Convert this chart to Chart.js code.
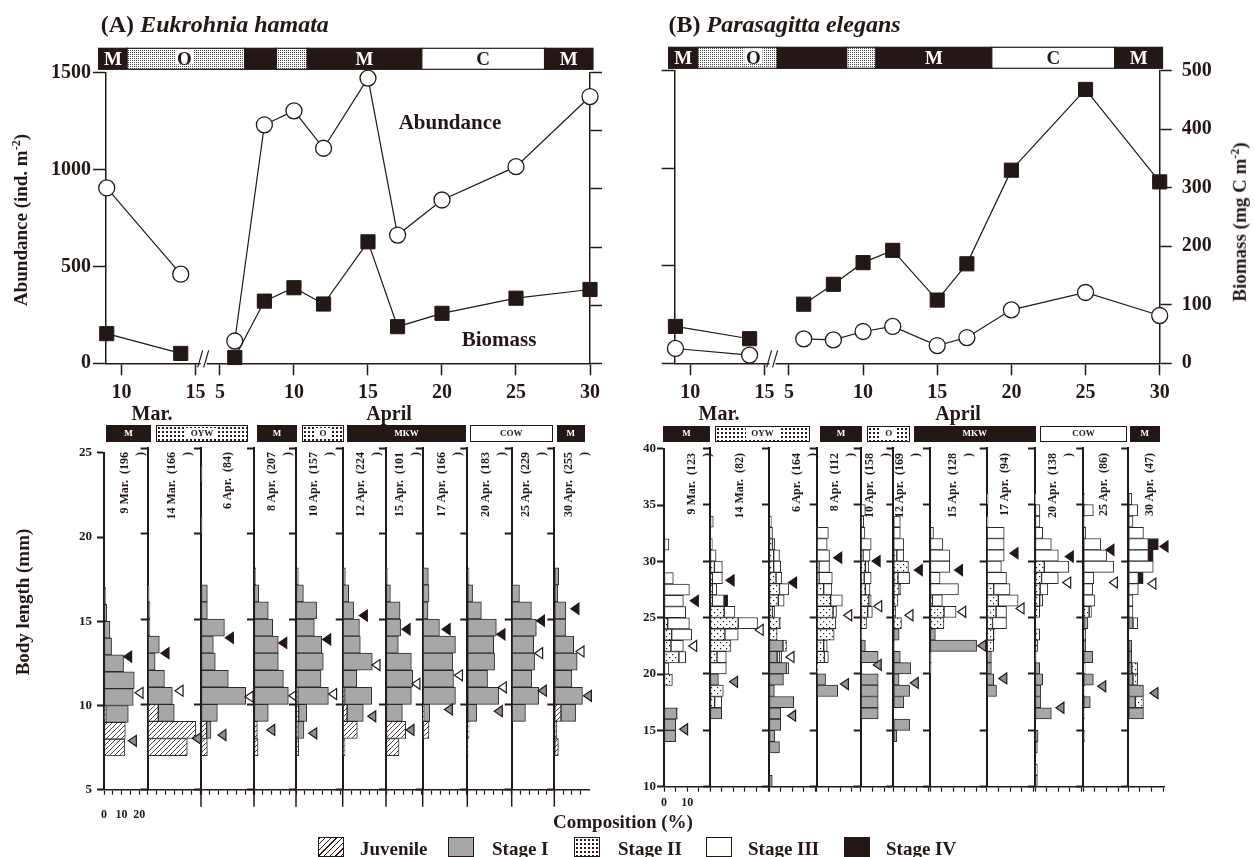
<!DOCTYPE html>
<html>
<head>
<meta charset="utf-8">
<title>Eukrohnia hamata / Parasagitta elegans</title>
<script src="https://cdn.jsdelivr.net/npm/chart.js@4.4.1/dist/chart.umd.min.js"></script>
<style>
  html, body { margin: 0; padding: 0; background: #fff; }
  body { position: relative; width: 1255px; height: 857px; overflow: hidden;
         font-family: "Liberation Serif", "Times New Roman", serif; font-weight: bold; color: #231815; }
  canvas { position: absolute; }
  .txt { position: absolute; white-space: nowrap; line-height: 1; transform: translate(-50%, -50%); }
  .lt { position: absolute; white-space: nowrap; line-height: 1; }
  .vtxt { position: absolute; white-space: nowrap; line-height: 1; transform: translate(-50%, -50%) rotate(-90deg); }
  .date { position: absolute; width: 110px; white-space: nowrap; transform-origin: 0 0; transform: rotate(-90deg);
          text-align: right; font-size: 12px; line-height: 15.5px; }
  .mass { position: absolute; box-sizing: border-box; border: 1px solid #231815; display: flex;
          align-items: center; justify-content: center; font-size: 9px; line-height: 1; }
  .mass.k { background: #231815; color: #fff; }
  .mass.w { background: #fff; }
  .mass.d { background-color: #fff; background-image: radial-gradient(circle, #231815 0.7px, transparent 1.1px); background-size: 4px 4px; }
  .mass.d span { background: #fff; padding: 1px 5px; }
  .sw { position: absolute; box-sizing: border-box; width: 26px; height: 20px; border: 1px solid #231815; }
  .sw.j { background: #fff repeating-linear-gradient(135deg, #231815 0 0.9px, #fff 0.9px 4px); }
  .sw.g { background: #a7a7a7; }
  .sw.d { background-color: #fff; background-image: radial-gradient(circle, #231815 0.7px, transparent 1.1px); background-size: 4px 4px; }
  .sw.w { background: #fff; }
  .sw.k { background: #231815; }
</style>
</head>
<body>
<script>
const INK = '#231815';
const GRAY = '#a7a7a7';
const FONT = '"Liberation Serif", "Times New Roman", serif';

// ---------- top panels: sampling dates, abundance (ind. m-2), biomass (mg C m-2) ----------
const marDays = [9, 14];
const aprDays = [6, 8, 10, 12, 15, 17, 20, 25, 30];
const hamataAbundance = [905, 460, 115, 1231, 1303, 1110, 1472, 662, 843, 1015, 1377];
const hamataBiomass = [51, 17, 10, 107, 130, 102, 209, 63, 86, 112, 127];
const elegansAbundance = [76, 42, 125, 120, 163, 189, 91, 132, 274, 363, 245];
const elegansBiomass = [63, 42, 101, 135, 172, 193, 108, 170, 330, 468, 310];
const marTicks = [10, 15];
const aprTicks = [5, 10, 15, 20, 25, 30];
const abundanceTicks = [0, 500, 1000, 1500];
const biomassTicks = [0, 100, 200, 300, 400, 500];

// water masses above the top panels: [label, kind, from, to, label at]
const hamataBands = [['M','k',8.45,10.38],['O','s',10.38,18.33,14.25],['','k',18.33,20.47],['','s',20.47,22.55],
                     ['M','k',22.55,30.29],['C','w',30.29,38.58],['M','k',38.58,41.85]];
const elegansBands = [['M','k',8.54,10.5],['O','s',10.5,15.87,14.25],['','k',15.87,20.55],['','s',20.55,22.52],
                      ['M','k',22.52,30.33],['C','w',30.33,38.62],['M','k',38.62,41.84]];

// ---------- bottom panels: length composition ----------
const sampleDates = ['9 Mar.', '14 Mar.', '6 Apr.', '8 Apr.', '10 Apr.', '12 Apr.', '15 Apr.', '17 Apr.', '20 Apr.', '25 Apr.', '30 Apr.'];
const hamataN = [196, 166, 84, 207, 157, 224, 101, 166, 183, 229, 255];
const elegansN = [123, 82, 164, 112, 158, 169, 128, 94, 138, 86, 47];
const massLabels = ['M', 'OYW', 'M', 'O', 'MKW', 'COW', 'M'];
const massKinds = ['k', 'd', 'k', 'd', 'k', 'w', 'k'];

// E. hamata rows: [length bin (mm), Juvenile %, Stage I %]
const hamata0309 = [[16,0,1],[15,0,1.5],[14,0,3.4],[13,0,4.3],[12,0,11.1],[11,0,17.2],[10,0,16.6],[9,1,12.8],[8,12.1,0],[7,11.7,0]];
const hamata0314 = [[16,0,0.8],[15,0,1.3],[14,0,1.3],[13,0,6.6],[12,0,4.2],[11,0,9.5],[10,0,14],[9,6,9.1],[8,27.3,0],[7,22.5,0]];
const hamata0406 = [[23,0,0.6],[20,0,0.6],[16,0,3.6],[15,0,3.6],[14,0,13.3],[13,0,7],[12,0,8.1],[11,0,15.5],[10,0,25.4],[9,0,9.3],[8,3.2,2.5],[7,3.6,0]];
const hamata0408 = [[17,0,1],[16,0,2.7],[15,0,8.1],[14,0,10.6],[13,0,13.8],[12,0,13.8],[11,0,16.7],[10,0,19.5],[9,0,8.1],[8,1.9,0],[7,2.3,0]];
const hamata0410 = [[17,0,1.3],[16,0,4.2],[15,0,11.7],[14,0,10.4],[13,0,14.6],[12,0,15.5],[11,0,14.2],[10,1,17.4],[9,1.5,4.6],[8,1,3.5],[7,1.5,0]];
const hamata0412 = [[17,0,1.5],[16,0,3.4],[15,0,6.2],[14,0,9.5],[13,0,10],[12,0,16.8],[11,0,8],[10,1.1,15.4],[9,2.5,9.2],[8,8.3,0],[7,1.3,0]];
const hamata0415 = [[17,0,0.8],[16,0,2.5],[15,0,8],[14,0,8.3],[13,0,7],[12,0,14.4],[11,0,15.2],[10,0,14.4],[9,0,9.3],[8,11.2,0],[7,7.4,0]];
const hamata0417 = [[17,0,3.2],[16,0,3.6],[15,0,3],[14,0,9.5],[13,0,18.6],[12,0,17],[11,0,17.5],[10,0,18.6],[9,0.5,3.5],[8,3.6,0]];
const hamata0420 = [[17,0,1],[16,0,3],[15,0,8],[14,0,16.5],[13,0,15],[12,0,15.5],[11,0,11.5],[10,0,17.8],[9,0,5.3],[8,1,0],[7,0.5,0]];
const hamata0425 = [[16,0,4.4],[15,0,11.2],[14,0,14],[13,0,12.5],[12,0,13],[11,0,11.4],[10,0,15.3],[9,0,7.8]];
const hamata0430 = [[17,0,2.5],[16,0,2],[15,0,6.6],[14,0,6.4],[13,0,11],[12,0,13],[11,0,10],[10,0,16],[9,3.8,8.3],[8,1.5,0],[7,2.3,0]];
const hamataRows = [hamata0309, hamata0314, hamata0406, hamata0408, hamata0410, hamata0412, hamata0415, hamata0417, hamata0420, hamata0425, hamata0430];

// P. elegans rows: [length bin (mm), Stage I %, Stage II %, Stage III %, Stage IV %]
const elegans0309 = [[31,0,0,2.1,0],[28,0,0,4,0],[27,0,0,10.9,0],[26,0,0,8.3,0],[25,0,0,9.3,0],[24,0,1.6,9.3,0],[23,0,3.3,8.6,0],
                     [22,0,3,5.3,0],[21,0,6.4,2.9,0],[20,0,0,2.1,0],[19,0,3.6,0,0],[16,5.4,0,0.4,0],[15,5,0,0,0],[14,5,0,0,0]];
const elegans0314 = [[33,0,0,1.4,0],[31,0,0,1,0],[30,0,0,2.6,0],[29,0,1.9,3.4,0],[28,0,1,4.3,0],[27,0,1,1.9,0],[26,0,1,5,1.6],
                     [25,0,6.1,4.6,0],[24,0,12.1,8.3,0],[23,0,6.4,5.7,0],[22,0,9,0,0],[21,0,3,4,0],[20,0,0,7,0],[19,3.6,0,0,0],
                     [18,0,5.7,0,0],[17,0,2,3,0],[16,5,0,0,0]];
const elegans0406 = [[33,0,0,1,0],[32,0,0,1.5,0],[31,0,1.5,1,0],[30,0,2,2.5,0],[29,0,2,3,0],[28,0,3,2.5,0],[27,0,4.5,4,0],
                     [26,0,4,2.5,0],[25,0,1.5,1,0],[24,0,4.5,0.5,0],[23,0,3.5,0,0],[22,6,1.5,0,0],[21,3.5,1,1,0],[20,7.5,1,0,0],
                     [19,6.2,0,0,0],[18,2.3,0,0,0],[17,10.6,0,0,0],[16,5,0,0,0],[15,5,0,0,0],[14,2.5,0,0,0],[13,4.5,0,0,0],[10,1.4,0,0,0]];
const elegans0408 = [[32,0,0,5,0],[31,0,0,4.5,0],[30,0,0,5.5,0],[29,0,1,4.5,0],[28,0,1,5.7,0],[27,0,3,3.5,0],[26,0,6,5,0],
                     [25,0,7,1.5,0],[24,0,8.2,0,0],[23,0,7.5,0,0],[22,0,3,1.5,0],[21,0,3.3,1.7,0],[20,0,0.5,0,0],[19,3.8,0,0,0],[18,9,0,0,0]];
const elegans0410 = [[34,0,0,2,0],[33,0,0,1.3,0],[32,0,0,1.8,0],[31,0,0,4.5,0],[30,0,1,3,0],[29,0,2,1.5,0],[28,0,1.5,3,0],
                     [27,0,2,2,0],[26,0,3.5,1,0],[25,0,3,2,0],[24,0,2.5,0,0],[23,0.5,0,0,0],[22,2,0,0,0],[21,7.5,0,0,0],
                     [19,7.5,0,0,0],[18,7.5,0,0,0],[17,7.5,0,0,0],[16,7.5,0,0,0]];
const elegans0412 = [[33,0,0,3,0],[32,0,0,3,0],[31,0,0,4.5,0],[30,0,1.5,3,0],[29,0,6.5,0,0],[28,0,2,5,0],[27,0,2.5,0.7,0],
                     [26,0,2,0,0],[25,0,1,0,0],[24,0,3.5,0,0],[23,2.5,0,0,0],[22,0.5,0,0,0],[21,3,0,0,0],[20,7.5,0,0,0],
                     [19,2.5,0,0,0],[18,7,0,0,0],[17,4.5,0,0,0],[15,7,0,0,0],[14,1.5,0,0,0]];
const elegans0415 = [[32,0,0,1.5,0],[31,0,0,5.5,0],[30,0,0,8.5,0],[29,0,0,8.5,0],[28,0,0,4.3,0],[27,0,0,12.2,0],[26,0,1,4.3,0],
                     [25,0,6,5.2,0],[24,0,6,0,0],[23,2.3,0,0,0],[22,20,0,0,0],[21,0,0,0.5,0],[20,0,0,0.5,0]];
const elegans0417 = [[35,0,0,0.6,0],[33,0,0,0.6,0],[32,0,0,7.5,0],[31,0,0,7.5,0],[30,0,0,7.5,0],[29,0,0,6.3,0],[28,0,0,8.5,0],
                     [27,0,3,7,0],[26,0,5,8.5,0],[25,0,4,4.5,0],[24,0,2.5,6,0],[23,0,3,0.5,0],[22,0,3,0,0],[21,2,0,0,0],
                     [20,2,0,0,0],[19,3,0,0,0],[18,4.2,0,0,0]];
const elegans0420 = [[35,0,0,0.3,0],[34,0,0,2.1,0],[33,0,0,2.1,0],[32,0,0,3.3,0],[31,0,0,7,0],[30,0,0,10,0],[29,0,4,10.5,0],
                     [28,0,2.8,7.2,0],[27,0,2.2,3.3,0],[26,0,2,1.3,0],[25,0,2,0,0],[23,0,2,0,0],[22,0,1.2,0,0],[21,0.5,0,0,0],
                     [20,2,0,0,0],[19,3.3,0,0,0],[18,2.5,0,0,0],[17,2.5,0,0,0],[16,7,0,0,0],[14,1.3,0,0,0],[13,1,0,0,0],
                     [11,0,0,1,0],[10,1,0,0,0]];
const elegans0425 = [[35,0,0,0.5,0],[34,0,0,4.3,0],[33,0,0,0.5,0],[32,0,0,1,0],[31,0,0,7.5,0],[30,0,0,10,0],[29,0,0,13,0],
                     [28,0,0,4.5,0],[27,0,0,4,0],[26,0,0,5,0],[25,0,2.5,1,0],[24,2,0,0,0],[23,0,0,1,0],[22,1,0,0,0],
                     [21,4,0,0,0],[20,0,0,0.8,0],[19,4.3,0,0,0],[18,0,0,0.7,0],[17,3,0,0,0],[16,0,0,0.5,0],[14,0.5,0,0,0]];
const elegans0430 = [[35,0,0,1.5,0],[34,0,0,4,0],[33,0,0,2,0],[32,0,0,6.5,0],[31,0,0,8.6,4.3],[30,0,0,8.6,2.1],[29,0,0,10.7,0],
                     [28,0,0,4.3,2.1],[27,0,0,4.3,0],[26,0,0,2,0],[25,0,0,2,0],[24,2,0,2,0],[22,1.5,0,0,0],[21,1.5,0,0,0],
                     [20,1.5,2.5,0,0],[19,2,2,0,0],[18,6.5,0,0,0],[17,3,3.5,0,0],[16,6.5,0,0,0]];
const elegansRows = [elegans0309, elegans0314, elegans0406, elegans0408, elegans0410, elegans0412, elegans0415, elegans0417, elegans0420, elegans0425, elegans0430];

// cohort modes per date: [body length (mm), composition (%)]
const hamataModeFilled = [[12.9,13.4],[13,9.8],[13.9,16.1],[13.6,16.3],[13.8,17.4],[15.2,11.7],[14.4,11.4],[14.4,13.3],[14.1,19.1],[14.9,16.3],[15.6,11.7]];
const hamataModeOpen = [[10.75,19.9],[10.8,17.8],[10.45,27.3],[10.5,22],[10.6,20.8],[12.3,18.9],[11.2,17],[11.7,20.3],[11,19.9],[13,15.3],[13.1,14.6]];
const hamataModeGray = [[7.9,16.1],[8,27.8],[8.2,11.9],[8.5,9.5],[8.3,9.5],[9.3,16.5],[8.5,13.6],[9.7,14.6],[9.6,17.6],[10.8,17.4],[10.5,18.8]];
const elegansModeFilled = [[26.5,13],[28.3,8.6],[28.1,10.1],[30.3,9],[30,6.6],[29.2,10.7],[29.2,12.2],[30.7,11.7],[30.4,14.7],[31,11.4],[31.3,15.3]];
const elegansModeOpen = [[22.5,12.3],[23.9,21.1],[21.5,9],[25.2,13.3],[26,7.3],[25.2,6.7],[25.5,13.6],[25.8,14.3],[28.1,13.6],[28.1,12.9],[28,10.1]];
const elegansModeGray = [[15.1,8.4],[19.3,10.1],[16.3,9.7],[19.1,11.9],[20.8,7.1],[19.2,9],[22.5,22.2],[19.6,6.9],[17,10.7],[18.9,7.9],[18.3,11]];

// ---------- layout ----------
const aprShift = 11.65;   // x unit: March day = day, April day = day + shift
const xBreak = 15.55;
const hamataAxes = [104, 147.7, 201, 254, 296, 342.7, 386, 422.7, 467.3, 511.7, 554.3, 589];
const elegansAxes = [664, 710, 769, 816.7, 860.7, 893.3, 930, 986.7, 1035, 1083.3, 1128.3, 1164];
const hamataLabelOff = [20.5, 24.2, 26.3, 18, 18.2, 17.8, 14, 19.2, 18.1, 14, 14.9];
const elegansLabelOff = [27.7, 30, 27.7, 18.3, 9.3, 6, 23, 18, 18, 20, 21.7];
const hamataMassX = [[106,151],[156,248],[257,297],[302,344],[347,466],[469.6,553],[556.5,585]];
const elegansMassX = [[663.3,709.9],[714.7,810.3],[820.4,861.7],[867,910.3],[913.5,1036.2],[1040.2,1126.9],[1130,1159.7]];

Chart.defaults.font.family = FONT;
Chart.defaults.font.weight = 'bold';
Chart.defaults.color = INK;
Chart.defaults.animation = false;

function makePattern(w, h, draw) {
  const c = document.createElement('canvas');
  c.width = w; c.height = h;
  const g = c.getContext('2d');
  draw(g);
  return g.createPattern(c, 'repeat');
}
const hatchFill = makePattern(5, 5, g => {
  g.fillStyle = '#fff'; g.fillRect(0, 0, 5, 5);
  g.strokeStyle = INK; g.lineWidth = 0.8;
  g.beginPath();
  g.moveTo(0, 5); g.lineTo(5, 0);
  g.moveTo(-1, 1); g.lineTo(1, -1);
  g.moveTo(4, 6); g.lineTo(6, 4);
  g.stroke();
});
const dotFill = makePattern(6, 6, g => {
  g.fillStyle = '#fff'; g.fillRect(0, 0, 6, 6);
  g.fillStyle = INK; g.fillRect(1, 1, 1.2, 1.2); g.fillRect(4, 4, 1.2, 1.2);
});
const stippleFill = makePattern(2, 2, g => {
  g.fillStyle = '#fff'; g.fillRect(0, 0, 2, 2);
  g.fillStyle = '#444'; g.fillRect(0, 0, 1, 1);
});

function addCanvas(left, top, w, h) {
  const c = document.createElement('canvas');
  c.width = w; c.height = h;
  c.style.left = left + 'px'; c.style.top = top + 'px';
  document.body.appendChild(c);
  return c;
}
function addText(html, x, y, size, cls) {
  const d = document.createElement('div');
  d.className = cls || 'txt';
  d.innerHTML = html;
  d.style.left = x + 'px'; d.style.top = y + 'px'; d.style.fontSize = size + 'px';
  document.body.appendChild(d);
  return d;
}

// water-mass band above a top panel
const bandPlugin = {
  id: 'bands',
  afterDraw(chart, args, opt) {
    const {ctx, chartArea} = chart, x = chart.scales.x;
    const h = opt.height, y0 = chartArea.top - opt.lift - h;
    ctx.save();
    opt.segments.forEach(([label, kind, from, to, at]) => {
      const x0 = x.getPixelForValue(from), x1 = x.getPixelForValue(to);
      ctx.fillStyle = kind === 'k' ? INK : kind === 's' ? stippleFill : '#fff';
      ctx.fillRect(x0, y0, x1 - x0, h);
      ctx.strokeStyle = INK; ctx.lineWidth = 1.2;
      ctx.strokeRect(x0, y0, x1 - x0, h);
      if (label) {
        const cx = x.getPixelForValue(at === undefined ? (from + to) / 2 : at);
        if (kind === 's') { ctx.fillStyle = '#fff'; ctx.fillRect(cx - 9, y0 + 1, 18, h - 6); }
        ctx.font = 'bold 19px ' + FONT;
        ctx.textAlign = 'center'; ctx.textBaseline = 'middle';
        ctx.fillStyle = kind === 'k' ? '#fff' : INK;
        ctx.fillText(label, cx, y0 + h / 2 + 1);
      }
    });
    ctx.restore();
  }
};

// "//" break between March and April
const breakPlugin = {
  id: 'axisBreak',
  afterDraw(chart, args, opt) {
    const {ctx, chartArea} = chart;
    const px = chart.scales.x.getPixelForValue(opt.at), yb = chartArea.bottom;
    ctx.save();
    ctx.fillStyle = '#fff';
    ctx.fillRect(px - 3, yb - 2, 6, 4);
    ctx.strokeStyle = INK; ctx.lineWidth = 1.2;
    ctx.beginPath();
    ctx.moveTo(px - 6, yb + 4); ctx.lineTo(px - 1, yb - 13);
    ctx.moveTo(px, yb + 4); ctx.lineTo(px + 5, yb - 13);
    ctx.stroke();
    ctx.restore();
  }
};

// cohort mode triangles (pointing left) and axis stems in the bottom panels
const modePlugin = {
  id: 'modes',
  afterDatasetsDraw(chart, args, opt) {
    const {ctx, chartArea} = chart, {x, y} = chart.scales;
    ctx.save();
    if (opt.stem) {
      ctx.strokeStyle = INK; ctx.lineWidth = 1.5;
      ctx.beginPath(); ctx.moveTo(chartArea.left, chartArea.bottom); ctx.lineTo(chartArea.left, chartArea.bottom + opt.stem); ctx.stroke();
    }
    opt.points.forEach(([mm, pct, kind]) => {
      const px = x.getPixelForValue(pct), py = y.getPixelForValue(mm);
      ctx.beginPath();
      ctx.moveTo(px - 4, py); ctx.lineTo(px + 4, py - 5.5); ctx.lineTo(px + 4, py + 5.5); ctx.closePath();
      ctx.fillStyle = kind === 'filled' ? INK : kind === 'open' ? '#fff' : '#8f8f8f';
      ctx.fill();
      ctx.lineWidth = 1.2; ctx.strokeStyle = INK; ctx.stroke();
    });
    ctx.restore();
  }
};

function seasonPoints(values) {
  const pts = marDays.map((d, i) => ({x: d, y: values[i]}));
  pts.push({x: xBreak, y: null});
  aprDays.forEach((d, i) => pts.push({x: d + aprShift, y: values[marDays.length + i]}));
  return pts;
}

function topChart(o) {
  const H = 430;
  const cv = addCanvas(o.left, 0, o.width, H);
  const tickFont = {size: 20, weight: 'bold', family: FONT};
  new Chart(cv, {
    type: 'line',
    data: {
      datasets: [
        {label: 'Biomass', yAxisID: 'bio', data: seasonPoints(o.biomass), borderColor: INK, borderWidth: 1.2,
         pointStyle: 'rect', pointRadius: 10, pointBackgroundColor: INK, pointBorderColor: INK, pointBorderWidth: 1, clip: false},
        {label: 'Abundance', yAxisID: 'abu', data: seasonPoints(o.abundance), borderColor: INK, borderWidth: 1.2,
         pointStyle: 'circle', pointRadius: 8, pointBackgroundColor: '#fff', pointBorderColor: INK, pointBorderWidth: 1.3, clip: false}
      ]
    },
    options: {
      responsive: false,
      animation: false,
      spanGaps: false,
      layout: {padding: {top: o.top, left: 0, right: 0, bottom: 0}},
      plugins: {
        legend: {display: false}, tooltip: {enabled: false},
        bands: {segments: o.bands, height: 21, lift: o.lift},
        axisBreak: {at: xBreak}
      },
      scales: {
        x: {
          type: 'linear', min: 8.95, max: 41.65,
          border: {color: INK, width: 1.5},
          grid: {drawOnChartArea: false, tickLength: 12, tickColor: INK, tickWidth: 1.5},
          afterBuildTicks: s => { s.ticks = [...marTicks.map(v => ({value: v})), ...aprTicks.map(v => ({value: v + aprShift}))]; },
          ticks: {font: tickFont, color: INK, padding: 6, maxRotation: 0, autoSkip: false,
                  callback: v => v < xBreak ? String(v) : String(Math.round(v - aprShift))},
          afterFit: s => { s.height = H - o.bottom; }
        },
        abu: {
          axis: 'y', type: 'linear', position: 'left', min: 0, max: 1500,
          border: {color: INK, width: 1.5},
          grid: {drawOnChartArea: false, tickLength: 13, tickColor: INK, tickWidth: 1.5},
          afterBuildTicks: s => { s.ticks = abundanceTicks.map(v => ({value: v})); },
          ticks: {display: o.leftLabels, font: tickFont, color: INK, padding: 2, callback: v => String(v)},
          afterFit: s => { s.width = o.leftW; }
        },
        bio: {
          axis: 'y', type: 'linear', position: 'right', min: 0, max: 500,
          border: {color: INK, width: 1.5},
          grid: {drawOnChartArea: false, tickLength: 12, tickColor: INK, tickWidth: 1.5},
          afterBuildTicks: s => { s.ticks = biomassTicks.map(v => ({value: v})); },
          ticks: {display: o.rightLabels, font: tickFont, color: INK, padding: 10, callback: v => String(v)},
          afterFit: s => { s.width = o.rightW; }
        }
      }
    },
    plugins: [bandPlugin, breakPlugin]
  });
}

function miniChart(o) {
  const padL = o.first ? 44 : 12, padR = 26, padT = 8, padB = 34;
  const left = Math.floor(o.axisX - padL), top = Math.floor(o.yTop - padT);
  const plotW = o.nextX - o.axisX, plotH = o.yBottom - o.yTop;
  const realL = o.axisX - left, realT = o.yTop - top;
  const width = Math.ceil(realL + plotW + padR), height = Math.ceil(realT + plotH + padB);
  const realR = width - realL - plotW, realB = height - realT - plotH;
  const cv = addCanvas(left, top, width, height);
  const datasets = o.stages.map(st => ({
    label: st.name,
    data: o.rows.filter(r => r[st.col] > 0).map(r => ({x: r[st.col], y: r[0] + 0.5})),
    backgroundColor: st.fill, borderColor: '#2a2a2a', borderWidth: 1, borderSkipped: false,
    barPercentage: 1, categoryPercentage: 1
  }));
  new Chart(cv, {
    type: 'bar',
    data: {datasets},
    options: {
      indexAxis: 'y', responsive: false, animation: false,
      layout: {padding: {top: realT, right: realR, left: 0, bottom: 0}},
      plugins: {legend: {display: false}, tooltip: {enabled: false},
                modes: {points: o.modes, stem: o.stem}},
      scales: {
        x: {
          type: 'linear', min: 0, max: plotW / o.pxPct, stacked: true,
          border: {color: INK, width: 1.5},
          grid: {drawOnChartArea: false, tickLength: 5, tickColor: INK, tickWidth: 1.2},
          ticks: {stepSize: 5, includeBounds: false, display: o.first, autoSkip: false, maxRotation: 0,
                  padding: o.xPad, font: {size: 12, weight: 'bold', family: FONT}, color: INK,
                  callback: v => v % 10 === 0 ? String(v) : ''},
          afterFit: s => { s.height = realB; }
        },
        y: {
          type: 'linear', min: o.yMin, max: o.yMax, stacked: true, offset: false,
          border: {color: INK, width: 2},
          grid: {drawOnChartArea: false, offset: false, tickLength: 7, tickColor: INK, tickWidth: 2},
          ticks: {stepSize: 5, includeBounds: false, display: o.first, padding: o.yPad,
                  font: {size: 13, weight: 'bold', family: FONT}, color: INK},
          afterFit: s => { s.width = realL; }
        }
      }
    },
    plugins: [modePlugin]
  });
}

// ---------- top panels ----------
topChart({left: 0, width: 620, top: 72.7, bottom: 363.3, lift: 3.4, leftW: 106, rightW: 30,
          leftLabels: true, rightLabels: false, abundance: hamataAbundance, biomass: hamataBiomass, bands: hamataBands});
topChart({left: 620, width: 635, top: 70.7, bottom: 363.3, lift: 2.4, leftW: 54.7, rightW: 95.3,
          leftLabels: false, rightLabels: true, abundance: elegansAbundance, biomass: elegansBiomass, bands: elegansBands});

addText('(A) <i>Eukrohnia hamata</i>', 100.8, 12, 24, 'lt');
addText('(B) <i>Parasagitta elegans</i>', 668.6, 12, 24, 'lt');
addText('Abundance', 450, 122, 21);
addText('Biomass', 499, 339, 21);
addText('Abundance (ind. m<sup style="font-size:12px">-2</sup>)', 20, 220, 19, 'vtxt');
addText('Biomass (mg C m<sup style="font-size:12px">-2</sup>)', 1239, 222, 19, 'vtxt');
addText('Mar.', 152, 413, 20);
addText('April', 389, 413, 20);
addText('Mar.', 719, 413, 20);
addText('April', 958, 413, 20);

// ---------- bottom panels ----------
const hamataStages = [{name: 'Juvenile', col: 1, fill: hatchFill}, {name: 'Stage I', col: 2, fill: GRAY}];
const elegansStages = [{name: 'Stage I', col: 1, fill: GRAY}, {name: 'Stage II', col: 2, fill: dotFill},
                       {name: 'Stage III', col: 3, fill: '#fff'}, {name: 'Stage IV', col: 4, fill: INK}];

function modesFor(i, filled, open, gray) {
  return [[...filled[i], 'filled'], [...open[i], 'open'], [...gray[i], 'gray']];
}

sampleDates.forEach((d, i) => {
  miniChart({axisX: hamataAxes[i], nextX: hamataAxes[i + 1], yTop: 448.3, yBottom: 789.7, yMin: 5, yMax: 25,
             pxPct: 1.76, rows: hamataRows[i], stages: hamataStages, first: i === 0, xPad: 13, yPad: 5,
             stem: i >= 2 ? 17 : 0, modes: modesFor(i, hamataModeFilled, hamataModeOpen, hamataModeGray)});
});
sampleDates.forEach((d, i) => {
  miniChart({axisX: elegansAxes[i], nextX: elegansAxes[i + 1], yTop: 448.3, yBottom: 786.7, yMin: 10, yMax: 40,
             pxPct: 2.33, rows: elegansRows[i], stages: elegansStages, first: i === 0, xPad: 4, yPad: 1,
             stem: 0, modes: modesFor(i, elegansModeFilled, elegansModeOpen, elegansModeGray)});
});

function dateLabel(axisX, off, topY, date, n) {
  const html = date + '&nbsp;&nbsp;(' + n + (n >= 100 ? '<br>)' : ')');
  const d = document.createElement('div');
  d.className = 'date';
  d.innerHTML = html;
  d.style.left = (axisX + off - 7.75) + 'px';
  d.style.top = (topY + 110) + 'px';
  document.body.appendChild(d);
}
sampleDates.forEach((d, i) => {
  dateLabel(hamataAxes[i], hamataLabelOff[i], 452, d, hamataN[i]);
  dateLabel(elegansAxes[i], elegansLabelOff[i], 453, d, elegansN[i]);
});

function massBars(spans, top, h) {
  spans.forEach(([x0, x1], i) => {
    const d = document.createElement('div');
    d.className = 'mass ' + massKinds[i];
    d.style.left = x0 + 'px'; d.style.top = top + 'px';
    d.style.width = (x1 - x0) + 'px'; d.style.height = h + 'px';
    d.innerHTML = '<span>' + massLabels[i] + '</span>';
    document.body.appendChild(d);
  });
}
massBars(hamataMassX, 425, 17.3);
massBars(elegansMassX, 426, 15.7);

addText('Body length (mm)', 22, 602, 19, 'vtxt');
addText('Composition (%)', 623, 821, 19);

// legend
const legendItems = [['j', 'Juvenile', 318, 360], ['g', 'Stage I', 448, 492], ['d', 'Stage II', 574, 618],
                     ['w', 'Stage III', 706, 748], ['k', 'Stage IV', 844, 886]];
legendItems.forEach(([cls, name, sx, tx]) => {
  const s = document.createElement('div');
  s.className = 'sw ' + cls;
  s.style.left = sx + 'px'; s.style.top = '837px';
  document.body.appendChild(s);
  addText(name, tx, 839, 19, 'lt');
});
</script>
</body>
</html>
